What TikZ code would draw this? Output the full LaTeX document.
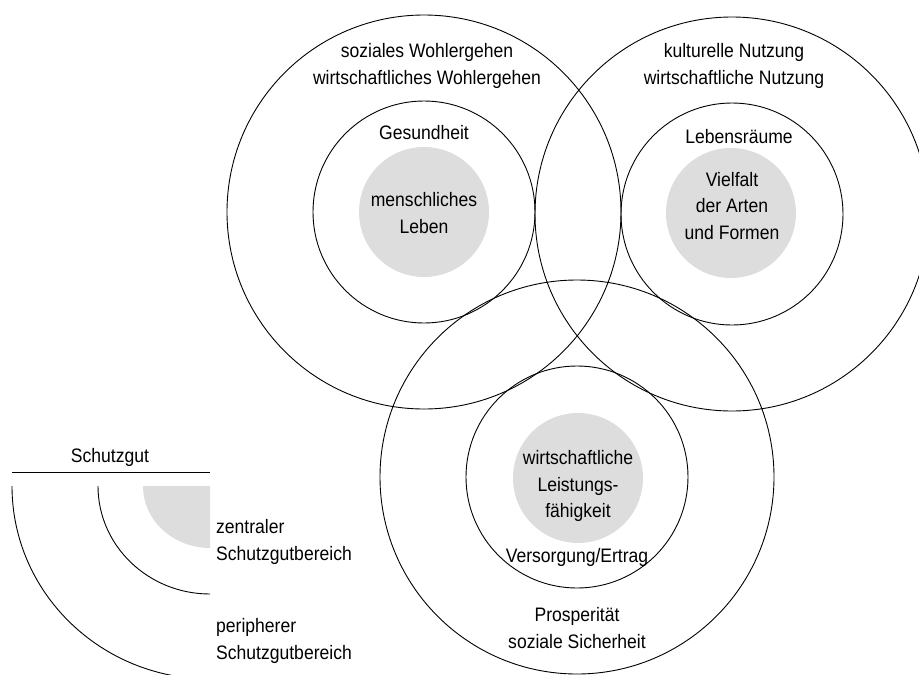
\documentclass[tikz,border=0pt]{standalone}
\usepackage{fontspec}
\setmainfont[FakeStretch=0.9]{Liberation Sans}
\usepackage{xcolor}
\usepackage{tikz}
\usetikzlibrary{positioning}
\definecolor{discgray}{RGB}{221,221,221}

\begin{document}
\begin{tikzpicture}[
			x=1pt, y=-1pt,
			every node/.style={font=\fontsize{19.5}{26.5}\selectfont, align=center, inner sep=0pt},
			outerring/.style={circle, draw, line width=0.9pt, minimum size=394pt},
			innerring/.style={circle, draw, line width=0.9pt, minimum size=222pt},
			core/.style={circle, fill=discgray, minimum size=130pt},
			arcline/.style={line width=0.9pt}
			]
			\useasboundingbox (0,0) rectangle (919,675);
			\clip (0,0) rectangle (919,675);
			
			\node[core] (coreA) at (424,212) {};
			\node[core] (coreB) at (731,213) {};
			\node[core] (coreC) at (578,478) {};
			
			\node[outerring] (outerA) at (424,212) {};
			\node[outerring] (outerB) at (732,214) {};
			\node[outerring] (outerC) at (577,477) {};
			\node[innerring] (innerA) at (424,212) {};
			\node[innerring] (innerB) at (732,214) {};
			\node[innerring] (innerC) at (577,477) {};
			
			\node (wohl) at (427,66) {soziales Wohlergehen\\wirtschaftliches Wohlergehen};
			\node (gesund) at (424,133) {Gesundheit};
			\node (leben) at (424,213) {menschliches\\Leben};
			
			\node (nutzung) at (734,66) {kulturelle Nutzung\\wirtschaftliche Nutzung};
			\node (raeume) at (739,137) {Lebensräume};
			\node (vielfalt) at (732,206) {Vielfalt\\der Arten\\und Formen};
			
			\node (leistung) at (578,486) {wirtschaftliche\\Leistungs-\\fähigkeit};
			\node (versorgung) at (577,557) {Versorgung/Ertrag};
			\node (prosper) at (577,628) {Prosperität\\soziale Sicherheit};
			
			\coordinate (legendc) at (210,486);
			\node (schutz) at (110,457) {Schutzgut};
			\draw[arcline] (12,472) -- (210,472);
			\fill[discgray] (legendc) -- ++(-67pt,0pt) arc[start angle=180, end angle=270, x radius=67pt, y radius=62pt] -- cycle;
			\draw[arcline] (legendc) ++(-112pt,0pt) arc[start angle=180, end angle=270, x radius=112pt, y radius=108pt];
			\draw[arcline] (legendc) ++(-198pt,0pt) arc[start angle=180, end angle=270, x radius=198pt, y radius=193pt];
			\node[anchor=west, align=left] (zentral) at (216,542) {zentraler\\Schutzgutbereich};
			\node[anchor=west, align=left] (peripher) at (216,641) {peripherer\\Schutzgutbereich};
		\end{tikzpicture}
\end{document}
